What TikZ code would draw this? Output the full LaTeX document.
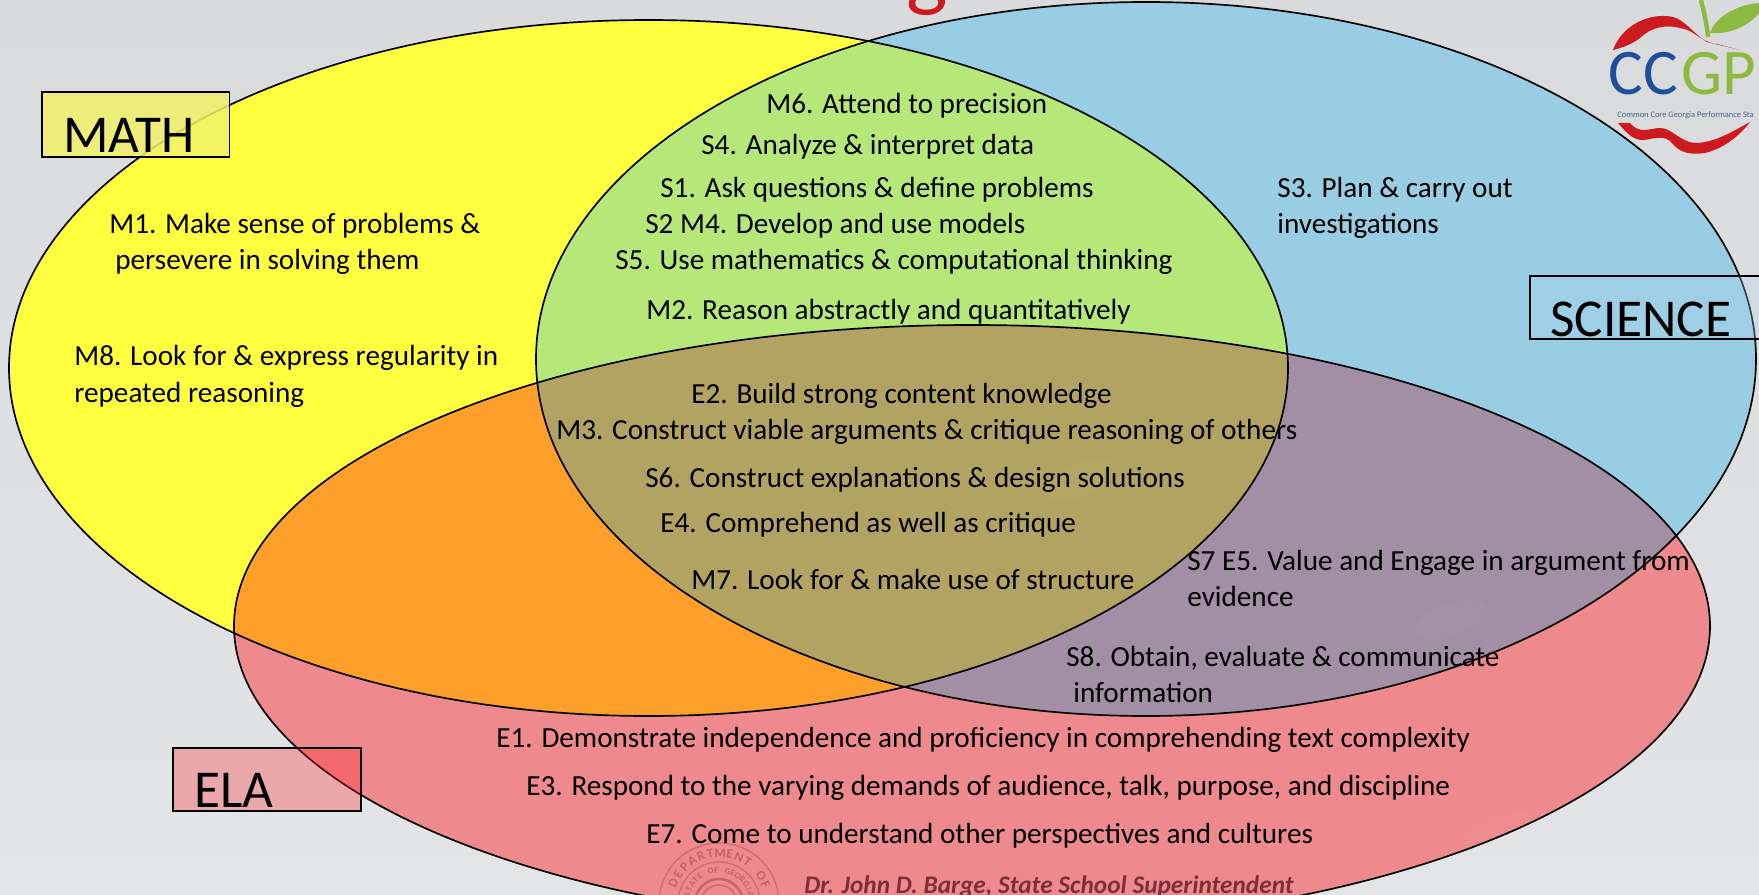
\documentclass[tikz,border=0pt]{standalone}
\usepackage{fontspec}
\setmainfont{Carlito}
\definecolor{slidetop}{HTML}{D9DADC}
\definecolor{slidebot}{HTML}{E3E4E5}
\definecolor{mathfill}{HTML}{FFFF40}
\definecolor{scifill}{HTML}{98CDE4}
\definecolor{elafill}{HTML}{EE8A8E}
\definecolor{msfill}{HTML}{B5E878}
\definecolor{mefill}{HTML}{FF9F2B}
\definecolor{sefill}{HTML}{A28FA5}
\definecolor{allfill}{HTML}{B3A362}
\definecolor{logored}{HTML}{CC1A1F}
\definecolor{logoblue}{HTML}{1F4E9E}
\definecolor{logogreen}{HTML}{8CB93F}
\definecolor{sealred}{HTML}{A83E48}
\newcommand{\mathell}{(648.5,368) ellipse [x radius=639.5,y radius=348]}
\newcommand{\sciell}{(1146,359) ellipse [x radius=610,y radius=357]}
\newcommand{\elaell}{(972,626) ellipse [x radius=738,y radius=301]}
\tikzset{
  item/.style={anchor=base west,inner sep=0pt,font=\fontsize{16.6}{20}\selectfont},
  tag/.style={draw=black,line width=1.1pt,anchor=north west,inner sep=0pt},
  tagtext/.style={anchor=base west,inner sep=0pt,font=\fontsize{30.3}{34}\selectfont},
  sealchar/.style={inner sep=0pt,text=sealred,text opacity=.55}
}
\begin{document}
\begin{tikzpicture}[x=0.02cm,y=-0.02cm]
  \useasboundingbox (0,0) rectangle (1759,895);
  \shade[top color=slidetop,bottom color=slidebot] (0,0) rectangle (1759,895);

  % title remains
  \node[anchor=base,inner sep=0pt,text=logored,font=\fontsize{50}{54}\selectfont] (titleg) at (927,1) {g};

  % logo
  \fill[logored] (1613,50) .. controls (1622,25) and (1650,12) .. (1673,17) .. controls (1685,20) and (1695,35) .. (1707,42) -- (1740,50) -- (1717,44) .. controls (1700,42) and (1695,30) .. (1680,28) .. controls (1665,24) and (1650,28) .. (1640,38) .. controls (1632,44) and (1622,48) .. (1613,50);
  \draw[logogreen,line width=2.5pt] (1701,0) .. controls (1704,12) and (1707,25) .. (1708,37);
  \fill[logogreen] (1710,33) .. controls (1715,18) and (1735,5) .. (1759,3) -- (1759,13) .. controls (1750,25) and (1730,35) .. (1710,33);
  \node[anchor=base west,inner sep=0pt,font=\fontsize{37}{40}\selectfont,text=logoblue] (logocc) at (1608,95) {CC};
  \node[anchor=base west,inner sep=0pt,font=\fontsize{37}{40}\selectfont,text=logogreen] (logogp) at (1681,95) {GP};
  \node[anchor=west,inner sep=0pt,font=\fontsize{4.8}{5}\selectfont,text=logoblue!60!gray] (logotext) at (1617,115) {Common Core Georgia Performance Sta};
  \fill[logored] (1618,123) .. controls (1628,135) and (1635,141) .. (1645,140) .. controls (1655,138) and (1665,135) .. (1672,143) .. controls (1680,153) and (1690,155) .. (1705,153) .. controls (1725,148) and (1740,135) .. (1750,122) .. controls (1735,130) and (1715,143) .. (1695,143) .. controls (1680,142) and (1672,128) .. (1660,128) .. controls (1650,128) and (1640,135) .. (1630,123) -- cycle;

  % the three ellipses
  \fill[mathfill] \mathell;
  \fill[scifill] \sciell;
  \fill[elafill] \elaell;
  \begin{scope}
    \clip \sciell;
    \fill[sefill] \elaell;
  \end{scope}
  \begin{scope}
    \clip \mathell;
    \fill[msfill] \sciell;
    \fill[mefill] \elaell;
    \clip \sciell;
    \fill[allfill] \elaell;
  \end{scope}

  % faint spots of the slide
  \foreach \x/\y in {1130/70,1270/40,1400/150,1600/190,1080/480,1450/620,60/760,420/850,1500/830,150/40,1660/850,300/820}
    \fill[white,opacity=.025,rotate around={20:(\x,\y)}] (\x,\y) ellipse [x radius=38,y radius=16];

  % seal and name
  \draw[sealred,opacity=.4,line width=.8pt] (719,903) circle (60);
  \draw[sealred,opacity=.4,line width=.8pt] (719,903) circle (41);
  \draw[sealred,opacity=.5,line width=1.4pt] (719,903) circle (24);
  \draw[sealred,opacity=.4,line width=1pt] (719,903) circle (18);
  \foreach \c [count=\i from 0] in {D,E,P,A,R,T,M,E,N,T,{},O,F}
    \node[sealchar,font=\bfseries\fontsize{7.5}{8}\selectfont,rotate={-(\i*11.2-67)}] at ({719+50*cos(156-\i*11.2)},{903-50*sin(156-\i*11.2)}) {\c};
  \foreach \c [count=\i from 0] in {S,T,A,T,E,{},O,F,{},G,E,O,R,G,I,A}
    \node[sealchar,font=\bfseries\fontsize{5}{6}\selectfont,rotate={-(\i*10-75)}] at ({719+33*cos(165-\i*10)},{903-33*sin(165-\i*10)}) {\c};
  \node[anchor=west,inner sep=0pt,text=sealred!75!black,font=\itshape\bfseries\fontsize{14.4}{16}\selectfont] (barge) at (804,887) {Dr. John D. Barge, State School Superintendent};

  \draw[line width=.95pt] \mathell;
  \draw[line width=.95pt] \sciell;
  \draw[line width=.95pt] \elaell;

  % tags
  \coordinate (mathcorner) at (229.5,157);
  \coordinate (scicorner) at (1760,339);
  \coordinate (elacorner) at (361,811);
  \draw[tag,fill={rgb,255:red,243;green,241;blue,104},fill opacity=.85] (42,92) rectangle (mathcorner);
  \node[tagtext] (mathlabel) at (63,153) {MATH};
  \draw[tag,fill={rgb,255:red,176;green,212;blue,240},fill opacity=.3] (1530,276) rectangle (scicorner);
  \node[tagtext] (scilabel) at (1550,337) {SCIENCE};
  \draw[tag,fill={rgb,255:red,255;green,32;blue,37},fill opacity=.3] (173,748) rectangle (elacorner);
  \node[tagtext] (elalabel) at (194,807) {ELA};

  % standards
  \node[item] (mone) at (109,234) {M1. Make sense of problems \&};
  \node[item] (monea) at (115,270) {persevere in solving them};
  \node[item] (meight) at (74,366) {M8. Look for \& express regularity in};
  \node[item] (meighta) at (74,402) {repeated reasoning};
  \node[item] (msix) at (766,114) {M6. Attend to precision};
  \node[item] (sfour) at (701,155) {S4. Analyze \& interpret data};
  \node[item] (sone) at (660,198) {S1. Ask questions \& define problems};
  \node[item] (stwo) at (645,234) {S2 M4. Develop and use models};
  \node[item] (sfive) at (615,270) {S5. Use mathematics \& computational thinking};
  \node[item] (mtwo) at (646,319) {M2. Reason abstractly and quantitatively};
  \node[item] (sthree) at (1277,198) {S3. Plan \& carry out};
  \node[item] (sthreea) at (1277,234) {investigations};
  \node[item] (etwo) at (691,403) {E2. Build strong content knowledge};
  \node[item] (mthree) at (556,439) {M3. Construct viable arguments \& critique reasoning of others};
  \node[item] (ssix) at (645,487) {S6. Construct explanations \& design solutions};
  \node[item] (efour) at (660,532) {E4. Comprehend as well as critique};
  \node[item] (mseven) at (691,589) {M7. Look for \& make use of structure};
  \node[item] (sseven) at (1187,570) {S7 E5. Value and Engage in argument from};
  \node[item] (ssevena) at (1187,606) {evidence};
  \node[item] (seight) at (1066,666) {S8. Obtain, evaluate \& communicate};
  \node[item] (seighta) at (1073,702) {information};
  \node[item] (eone) at (496,747) {E1. Demonstrate independence and proficiency in comprehending text complexity};
  \node[item] (ethree) at (526,795) {E3. Respond to the varying demands of audience, talk, purpose, and discipline};
  \node[item] (eseven) at (646,843) {E7. Come to understand other perspectives and cultures};
\end{tikzpicture}
\end{document}
